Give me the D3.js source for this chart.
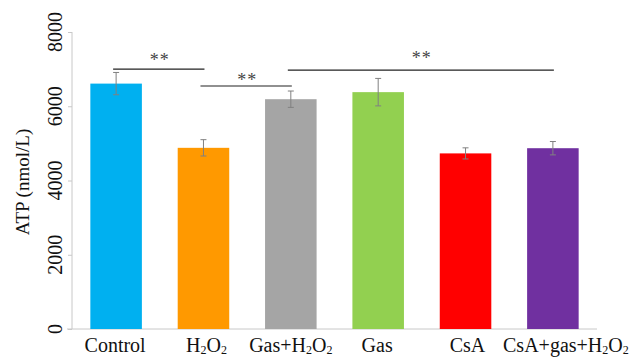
<!DOCTYPE html>
<html>
<head>
<meta charset="utf-8">
<script src="https://cdn.jsdelivr.net/npm/d3@7"></script>
<style>
  body { margin: 0; background: #fff; overflow: hidden; }
</style>
</head>
<body>
<div id="chart"></div>
<script>
// data
const groups = ["Control", "H2O2", "Gas+H2O2", "Gas", "CsA", "CsA+gas+H2O2"];
const atp = [6610, 4880, 6190, 6380, 4730, 4870];
const sd = [300, 220, 220, 370, 150, 180];
const colors = ["#00b0f0", "#ff9900", "#a5a5a5", "#92d050", "#ff0000", "#7030a0"];
const yTicks = [0, 2000, 4000, 6000, 8000];
// significance brackets: from group, to group, level in y units
const sigFrom = ["Control", "H2O2", "Gas+H2O2"];
const sigTo = ["H2O2", "Gas+H2O2", "CsA+gas+H2O2"];
const sigLevel = [7000, 6545, 6975];

const serif = "'Liberation Serif', 'DejaVu Serif', 'Times New Roman', serif";
const width = 633, height = 358;
const svg = d3.select("#chart").append("svg")
    .attr("width", width)
    .attr("height", height)
    .attr("font-family", serif);

const x = d3.scaleBand()
    .domain(groups)
    .range([72, 597])
    .paddingInner(0.41)
    .paddingOuter(0.21);

const y = d3.scaleLinear()
    .domain([0, 8000])
    .range([329, 32]);

// y axis, labels drawn separately so they can be turned
const yAxis = svg.append("g")
    .attr("transform", "translate(72,0)")
    .call(d3.axisLeft(y).tickValues(yTicks).tickSize(4).tickFormat(""));
yAxis.select(".domain").attr("stroke", "#c8c8c8").attr("d", `M0,${y(8000)}V${y(0)}`);
yAxis.selectAll(".tick line").attr("stroke", "#c8c8c8");

svg.selectAll("text.ytick")
    .data(yTicks)
    .join("text")
    .attr("class", "ytick")
    .attr("transform", d => `translate(62,${y(d)}) rotate(-90)`)
    .attr("text-anchor", "middle")
    .attr("font-family", serif)
    .attr("font-size", 20)
    .attr("fill", "#111")
    .text(d => d);

// x axis line
svg.append("line")
    .attr("x1", 67).attr("x2", 597)
    .attr("y1", y(0)).attr("y2", y(0))
    .attr("stroke", "#c8c8c8");

// y title
svg.append("text")
    .attr("transform", `translate(29,182) rotate(-90)`)
    .attr("text-anchor", "middle")
    .attr("font-family", serif)
    .attr("font-size", 19)
    .attr("fill", "#111")
    .text("ATP (nmol/L)");

// bars
svg.selectAll("rect.bar")
    .data(groups)
    .join("rect")
    .attr("class", "bar")
    .attr("x", d => x(d))
    .attr("width", x.bandwidth())
    .attr("y", (d, i) => y(atp[i]))
    .attr("height", (d, i) => y(0) - y(atp[i]))
    .attr("fill", (d, i) => colors[i]);

// error bars
const err = svg.append("g").attr("stroke", "#808080").attr("stroke-width", 1);
groups.forEach((g, i) => {
    const cx = x(g) + x.bandwidth() / 2;
    err.append("line")
        .attr("x1", cx).attr("x2", cx)
        .attr("y1", y(atp[i] - sd[i])).attr("y2", y(atp[i] + sd[i]));
    [atp[i] - sd[i], atp[i] + sd[i]].forEach(v => {
        err.append("line")
            .attr("x1", cx - 3).attr("x2", cx + 3)
            .attr("y1", y(v)).attr("y2", y(v));
    });
});

// significance lines
const starGap = [3, 0, 6];
sigFrom.forEach((f, i) => {
    const x1 = x(f) + x.bandwidth() / 2 - 3;
    const x2 = x(sigTo[i]) + x.bandwidth() / 2 + 1;
    svg.append("line")
        .attr("x1", x1).attr("x2", x2)
        .attr("y1", y(sigLevel[i])).attr("y2", y(sigLevel[i]))
        .attr("stroke", "#222").attr("stroke-width", 1.2);
    svg.append("text")
        .attr("x", (x1 + x2) / 2 + 1)
        .attr("y", y(sigLevel[i]) - starGap[i])
        .attr("text-anchor", "middle")
        .attr("font-family", serif)
        .attr("font-size", 18)
        .attr("letter-spacing", 1)
        .attr("fill", "#444")
        .text("**");
});

// x labels with subscripts
const labelParts = {
    "Control": [["Control", false]],
    "H2O2": [["H", false], ["2", true], ["O", false], ["2", true]],
    "Gas+H2O2": [["Gas+H", false], ["2", true], ["O", false], ["2", true]],
    "Gas": [["Gas", false]],
    "CsA": [["CsA", false]],
    "CsA+gas+H2O2": [["CsA+gas+H", false], ["2", true], ["O", false], ["2", true]]
};
const labelShift = [-1, 3, 0, -1, 2, 13];
groups.forEach((g, i) => {
    const t = svg.append("text")
        .attr("x", x(g) + x.bandwidth() / 2 + labelShift[i])
        .attr("y", 352)
        .attr("text-anchor", "middle")
        .attr("font-family", serif)
        .attr("font-size", 20)
        .attr("fill", "#111");
    labelParts[g].forEach(p => {
        t.append("tspan")
            .attr("dy", p[1] ? 2 : -2)
            .attr("font-size", p[1] ? 12 : null)
            .text(p[0]);
    });
    // first tspan should sit on the baseline
    t.select("tspan").attr("dy", null);
});
</script>
</body>
</html>
